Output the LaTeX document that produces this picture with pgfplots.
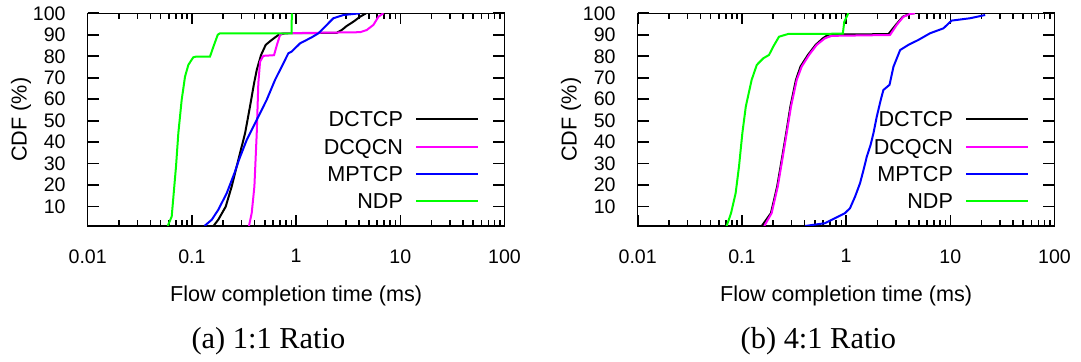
\documentclass[border=0pt]{standalone}
\usepackage{fontspec}
\setmainfont{Liberation Sans}
\newfontfamily\capfont{Liberation Serif}
\usepackage{pgfplots}
\pgfplotsset{compat=1.18}
\definecolor{gpgreen}{RGB}{0,255,0}
\definecolor{gpmag}{RGB}{255,0,255}
\definecolor{gpblue}{RGB}{0,0,255}
\pgfplotsset{
  legend image code/.code={\draw[#1] (0pt,0pt) -- (31pt,0pt);},
  every axis plot/.append style={line width=1pt},
  every axis x label/.style={at={(axis description cs:0.5,-0.356)}, anchor=base, font=\fontsize{10.8}{12}\selectfont},
  every axis y label/.style={at={(axis description cs:-0.1464,0.5)}, anchor=base, rotate=90, font=\fontsize{10.8}{12}\selectfont},
}
\begin{document}
\begin{tikzpicture}
\path[use as bounding box] (0,0) rectangle (540.5pt,181pt);
\begin{axis}[at={(43.85pt,68pt)}, anchor=south west,
    xmode=log,
    scale only axis, width=208.4pt, height=106.35pt,
    xmin=0.01, xmax=100, ymin=1, ymax=100,
    xtick={0.01,0.1,1,10,100}, xticklabels={0.01,0.1,1,10,100},
    minor xtick={0.02,0.03,0.04,0.05,0.06,0.07,0.08,0.09,0.2,0.3,0.4,0.5,0.6,0.7,0.8,0.9,2,3,4,5,6,7,8,9,20,30,40,50,60,70,80,90},
    ytick={10,20,30,40,50,60,70,80,90,100},
    axis line style={line width=0.75pt, black},
    tick style={draw=black, line width=0.8pt},
    major tick length=5.6pt, minor tick length=3pt,
    tick align=inside,
    /pgf/number format/assume math mode=true,
    tick label style={font=\fontsize{9.8}{11}\selectfont},
    yticklabel style={anchor=east, inner sep=0pt, xshift=-10.85pt},
    xticklabel style={anchor=north, inner sep=0pt, yshift=-11.5pt},
    xlabel={Flow completion time (ms)}, ylabel={CDF (\%)},
    legend cell align=right, legend plot pos=right,
    legend style={draw=none, fill=none, inner sep=0pt, outer sep=0pt,
      at={(0.9395,0.5374)}, anchor=north east,
      font=\fontsize{10.8}{12}\selectfont,
      row sep=6.05pt, column sep=6.15pt,
      nodes={inner sep=0pt, text height=7.6pt, text depth=0pt}}]
\addplot[black] coordinates {(0.161,1) (0.179,3.9) (0.211,10) (0.241,19.4) (0.279,31.8) (0.324,44.2) (0.361,56.6) (0.395,67.4) (0.419,73.6) (0.461,80.6) (0.511,85.3) (0.583,87.6) (0.676,89.9) (0.783,90.7) (2.45,90.9) (2.74,92.2) (3.06,94.1) (3.55,96.1) (4.11,98.4) (4.69,100)};
\addlegendentry{DCTCP}
\addplot[gpmag] coordinates {(0.353,1) (0.375,7) (0.398,19.4) (0.419,44.2) (0.434,67.4) (0.451,77.5) (0.485,80.2) (0.614,80.5) (0.661,86) (0.702,89.9) (0.738,90.7) (4.11,91.2) (4.76,92.2) (5.52,94.6) (6.17,98.4) (6.89,100)};
\addlegendentry{DCQCN}
\addplot[gpblue] coordinates {(0.132,1) (0.155,3.9) (0.179,8.5) (0.216,16.3) (0.256,25.6) (0.283,31.8) (0.336,41.1) (0.419,50.4) (0.522,59.7) (0.628,69) (0.728,75.2) (0.843,81.4) (0.908,82.2) (1.09,86) (1.41,88.8) (1.64,90.7) (1.97,94.6) (2.28,97.7) (2.85,99.2) (4.11,100)};
\addlegendentry{MPTCP}
\addplot[gpgreen] coordinates {(0.0586,1) (0.064,5.4) (0.0704,28.7) (0.0741,44.2) (0.0798,59.7) (0.0859,70.5) (0.0925,76) (0.103,79.5) (0.109,79.8) (0.149,79.8) (0.161,84.5) (0.177,90) (0.186,90.7) (0.905,90.7) (0.91,100)};
\addlegendentry{NDP}
\end{axis}
\begin{axis}[at={(318.85pt,68pt)}, anchor=south west,
    xmode=log,
    scale only axis, width=208.4pt, height=106.35pt,
    xmin=0.01, xmax=100, ymin=1, ymax=100,
    xtick={0.01,0.1,1,10,100}, xticklabels={0.01,0.1,1,10,100},
    minor xtick={0.02,0.03,0.04,0.05,0.06,0.07,0.08,0.09,0.2,0.3,0.4,0.5,0.6,0.7,0.8,0.9,2,3,4,5,6,7,8,9,20,30,40,50,60,70,80,90},
    ytick={10,20,30,40,50,60,70,80,90,100},
    axis line style={line width=0.75pt, black},
    tick style={draw=black, line width=0.8pt},
    major tick length=5.6pt, minor tick length=3pt,
    tick align=inside,
    /pgf/number format/assume math mode=true,
    tick label style={font=\fontsize{9.8}{11}\selectfont},
    yticklabel style={anchor=east, inner sep=0pt, xshift=-10.85pt},
    xticklabel style={anchor=north, inner sep=0pt, yshift=-11.5pt},
    xlabel={Flow completion time (ms)}, ylabel={CDF (\%)},
    legend cell align=right, legend plot pos=right,
    legend style={draw=none, fill=none, inner sep=0pt, outer sep=0pt,
      at={(0.9395,0.5374)}, anchor=north east,
      font=\fontsize{10.8}{12}\selectfont,
      row sep=6.05pt, column sep=6.15pt,
      nodes={inner sep=0pt, text height=7.6pt, text depth=0pt}}]
\addplot[black] coordinates {(0.155,1) (0.19,7) (0.218,19.4) (0.241,31.8) (0.266,44.2) (0.292,56.6) (0.33,69) (0.365,75.2) (0.43,80.6) (0.51,85.3) (0.6,88.4) (0.68,90.1) (2.55,90.3) (3.0,94.6) (3.5,98.4) (4.1,99.8) (4.5,100)};
\addlegendentry{DCTCP}
\addplot[gpmag] coordinates {(0.164,1) (0.193,7) (0.221,19.4) (0.244,31.8) (0.269,44.2) (0.296,56.6) (0.336,69) (0.375,75.2) (0.441,80.6) (0.522,85.3) (0.628,88.4) (0.728,89.5) (2.64,89.9) (3.06,94.6) (3.55,98.4) (4.11,99.7) (4.59,100)};
\addlegendentry{DCQCN}
\addplot[gpblue] coordinates {(0.404,1) (0.628,2.3) (0.843,5.4) (0.977,7) (1.09,9.3) (1.22,14.7) (1.36,20.9) (1.47,27.1) (1.58,33.3) (1.72,38.8) (1.83,44.2) (1.97,51.9) (2.15,59.7) (2.28,64.3) (2.61,66.7) (2.85,75.2) (3.30,82.9) (3.96,85.3) (4.94,87.6) (6.39,90.7) (8.59,93) (10.3,96.6) (15.5,97.7) (21.6,99.2)};
\addlegendentry{MPTCP}
\addplot[gpgreen] coordinates {(0.0714,1) (0.0787,7) (0.0871,16.3) (0.0938,28.7) (0.101,44.2) (0.109,56.6) (0.124,69) (0.139,76) (0.161,79.1) (0.182,80.6) (0.2,84.5) (0.227,89.1) (0.279,90.4) (0.93,90.5) (0.96,96) (1.05,100)};
\addlegendentry{NDP}
\end{axis}
\node[anchor=base, font=\capfont\fontsize{15.2}{17}\selectfont] at (134.2pt,6.85pt) {(a) 1:1 Ratio};
\node[anchor=base, font=\capfont\fontsize{15.2}{17}\selectfont] at (409.2pt,6.85pt) {(b) 4:1 Ratio};
\end{tikzpicture}
\end{document}
